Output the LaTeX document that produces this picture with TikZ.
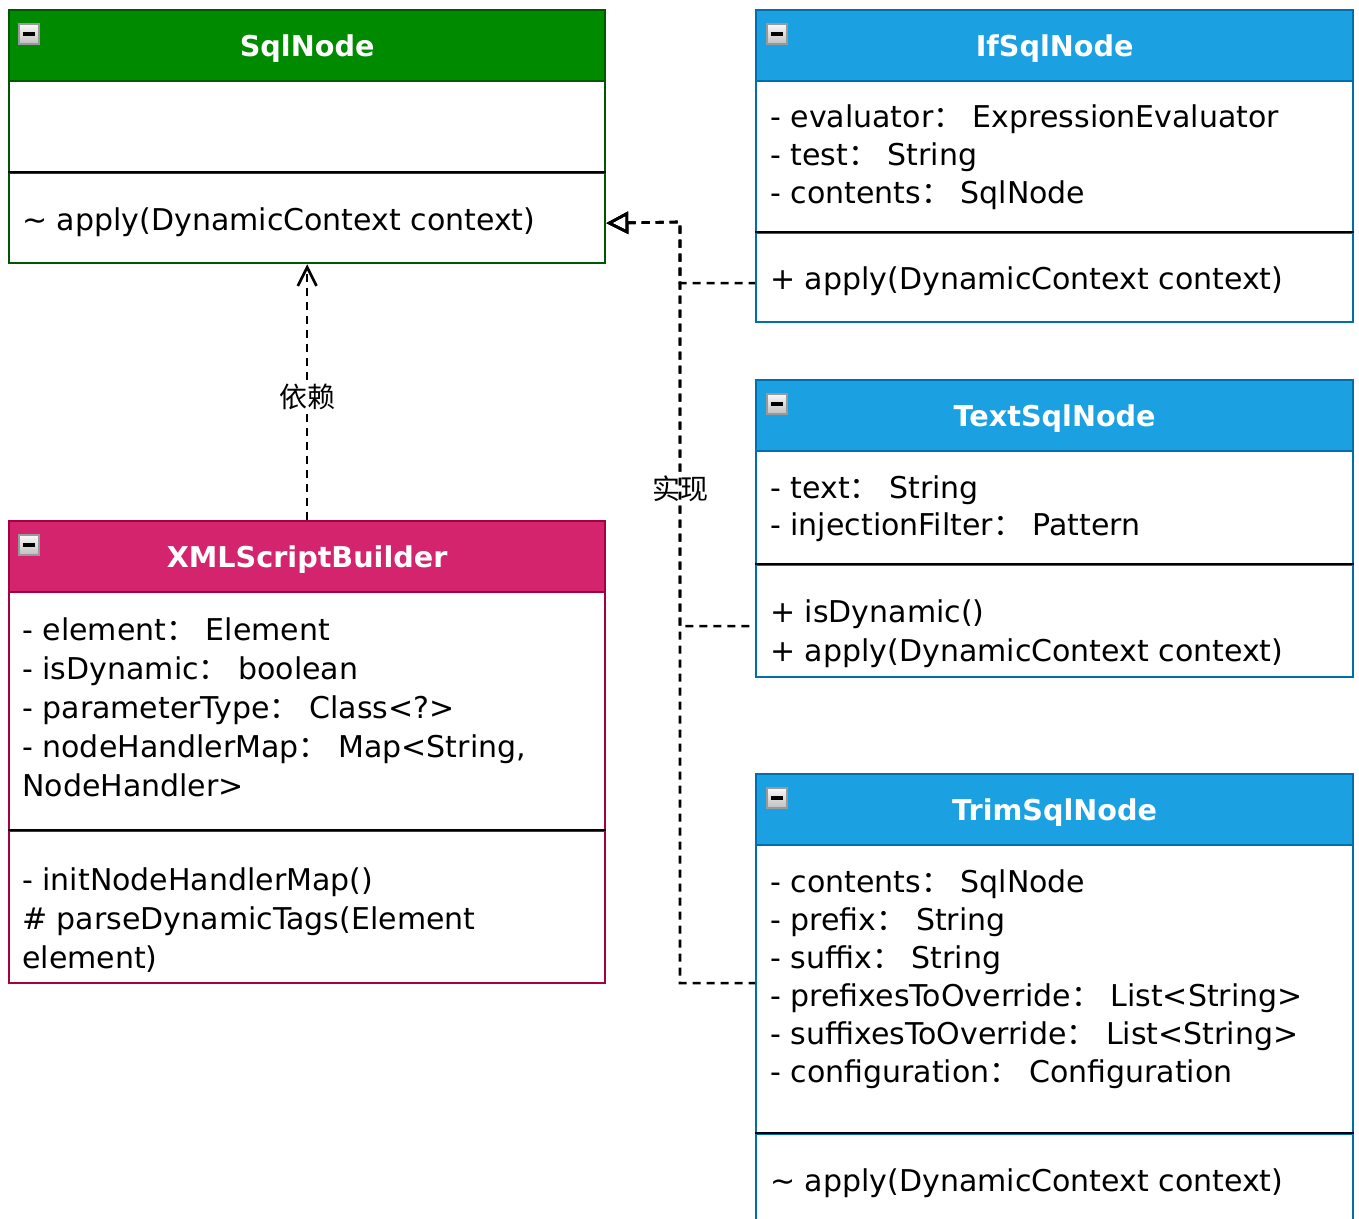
\documentclass[tikz,border=0pt]{standalone}
\usepackage{fontspec}
\setmainfont{DejaVu Sans}
\newfontfamily\cjk{Noto Sans CJK SC}
\usetikzlibrary{arrows.meta}
\newlength\upx \setlength\upx{0.75pt}
\newcommand\fc{{\cjk ：}\ }
\newcommand\bodyfont{\fontsize{22.5}{27}\selectfont}
\newcommand\titlefont{\bfseries\fontsize{21.5}{25}\selectfont}
\definecolor{gfill}{HTML}{008A00}
\definecolor{gline}{HTML}{005700}
\definecolor{bfill}{HTML}{1BA1E2}
\definecolor{bline}{HTML}{006EAF}
\definecolor{pfill}{HTML}{D5246E}
\definecolor{pline}{HTML}{A50040}
\tikzset{
  hdr/.style 2 args={rectangle, anchor=north west, inner sep=0pt, fill=#1, draw=#2,
    line width=1.7pt, text=white, font=\titlefont, text height=15.6pt, text depth=0pt},
  sec/.style={rectangle, anchor=north west, inner sep=0pt, fill=white, draw=#1, line width=1.7pt},
  txt/.style={anchor=base west, inner sep=0pt, font=\bodyfont},
  divider/.style={line width=1.7pt, black},
  icon/.style={rectangle, anchor=north west, inner sep=0pt, minimum size=20*\upx,
    top color=gray!5, bottom color=gray!50, draw=gray!80, line width=1.4pt,
    path picture={\draw[black, line width=2.4pt]
      ([xshift=3pt]path picture bounding box.west) -- ([xshift=-3pt]path picture bounding box.east);}},
  real/.style={line width=2pt, dash pattern=on 6pt off 4.5pt,
    {Triangle[open, length=16.5pt, width=16.5pt, line width=2pt]}-},
  dep/.style={line width=2pt, dash pattern=on 6pt off 4.5pt,
    -{Straight Barb[length=14pt, width=14pt, line width=2pt]}},
  lbl/.style={fill=white, inner sep=2pt, font=\cjk\fontsize{21}{25}\selectfont}
}
\begin{document}
\begin{tikzpicture}[x=0.75pt, y=-0.75pt]
\useasboundingbox (0,0) rectangle (1359,1218);

% ---------------- SqlNode
\node[hdr={gfill}{gline}, minimum width=596*\upx, minimum height=71*\upx] (sqlH) at (8,9) {SqlNode};
\node[sec=gline, minimum width=596*\upx, minimum height=92*\upx] (sqlA) at (8,80) {};
\node[sec=gline, minimum width=596*\upx, minimum height=90*\upx] (sqlM) at (8,172) {};
\draw[divider] (sqlM.north west) -- (sqlM.north east);
\node[icon] (sqlI) at (18,23) {};
\node[txt] (sqlM1) at (22,230) {\textasciitilde\ apply(DynamicContext context)};

% ---------------- IfSqlNode
\node[hdr={bfill}{bline}, minimum width=597*\upx, minimum height=71*\upx] (ifH) at (755,9) {IfSqlNode};
\node[sec=bline, minimum width=597*\upx, minimum height=152*\upx] (ifA) at (755,80) {};
\node[sec=bline, minimum width=597*\upx, minimum height=89*\upx] (ifM) at (755,232) {};
\draw[divider] (ifM.north west) -- (ifM.north east);
\node[icon] (ifI) at (766,23) {};
\node[txt] (ifA1) at (770,127) {- evaluator\fc ExpressionEvaluator};
\node[txt] (ifA2) at (770,165) {- test\fc String};
\node[txt] (ifA3) at (770,203) {- contents\fc SqlNode};
\node[txt] (ifM1) at (770,289) {+ apply(DynamicContext context)};

% ---------------- TextSqlNode
\node[hdr={bfill}{bline}, minimum width=597*\upx, minimum height=71*\upx] (textH) at (755,379) {TextSqlNode};
\node[sec=bline, minimum width=597*\upx, minimum height=114*\upx] (textA) at (755,450) {};
\node[sec=bline, minimum width=597*\upx, minimum height=112*\upx] (textM) at (755,564) {};
\draw[divider] (textM.north west) -- (textM.north east);
\node[icon] (textI) at (766,393) {};
\node[txt] (textA1) at (770,498) {- text\fc String};
\node[txt] (textA2) at (770,535) {- injectionFilter\fc Pattern};
\node[txt] (textM1) at (770,622) {+ isDynamic()};
\node[txt] (textM2) at (770,661) {+ apply(DynamicContext context)};

% ---------------- TrimSqlNode
\node[hdr={bfill}{bline}, minimum width=597*\upx, minimum height=71*\upx] (trimH) at (755,773) {TrimSqlNode};
\node[sec=bline, minimum width=597*\upx, minimum height=289*\upx] (trimA) at (755,844) {};
\node[sec=bline, minimum width=597*\upx, minimum height=110*\upx] (trimM) at (755,1133) {};
\draw[divider] (trimM.north west) -- (trimM.north east);
\node[icon] (trimI) at (766,787) {};
\node[txt] (trimA1) at (770,892) {- contents\fc SqlNode};
\node[txt] (trimA2) at (770,930) {- prefix\fc String};
\node[txt] (trimA3) at (770,968) {- suffix\fc String};
\node[txt] (trimA4) at (770,1006) {- prefixesToOverride\fc List<String>};
\node[txt] (trimA5) at (770,1044) {- suffixesToOverride\fc List<String>};
\node[txt] (trimA6) at (770,1082) {- configuration\fc Configuration};
\node[txt] (trimM1) at (770,1191) {\textasciitilde\ apply(DynamicContext context)};

% ---------------- XMLScriptBuilder
\node[hdr={pfill}{pline}, minimum width=596*\upx, minimum height=71*\upx] (xmlH) at (8,520) {XMLScriptBuilder};
\node[sec=pline, minimum width=596*\upx, minimum height=239*\upx] (xmlA) at (8,591) {};
\node[sec=pline, minimum width=596*\upx, minimum height=152*\upx] (xmlM) at (8,830) {};
\draw[divider] (xmlM.north west) -- (xmlM.north east);
\node[icon] (xmlI) at (18,534) {};
\node[txt] (xmlA1) at (22,640) {- element\fc Element};
\node[txt] (xmlA2) at (22,679) {- isDynamic\fc boolean};
\node[txt] (xmlA3) at (22,718) {- parameterType\fc Class<?>};
\node[txt] (xmlA4) at (22,757) {- nodeHandlerMap\fc Map<String,};
\node[txt] (xmlA5) at (22,796) {NodeHandler>};
\node[txt] (xmlM1) at (22,890) {- initNodeHandlerMap()};
\node[txt] (xmlM2) at (22,929) {\# parseDynamicTags(Element};
\node[txt] (xmlM3) at (22,968) {element)};

% ---------------- connectors
\coordinate (bus) at (680,222);
\draw[dep] (xmlH.north) -- node[pos=0.48, lbl] {依赖} (sqlM.south);
\draw[real] ([yshift=-3.75pt]sqlM.east) -- (bus) |- ([yshift=-4.1pt]ifM.west);
\draw[real] ([yshift=-3.75pt]sqlM.east) -- (bus) |- node[pos=0.33, lbl] {实现} ([yshift=-3.75pt]textM.west);
\draw[real] ([yshift=-3.75pt]sqlM.east) -- (bus) |- ([yshift=4.9pt]trimA.west);
\end{tikzpicture}
\end{document}
